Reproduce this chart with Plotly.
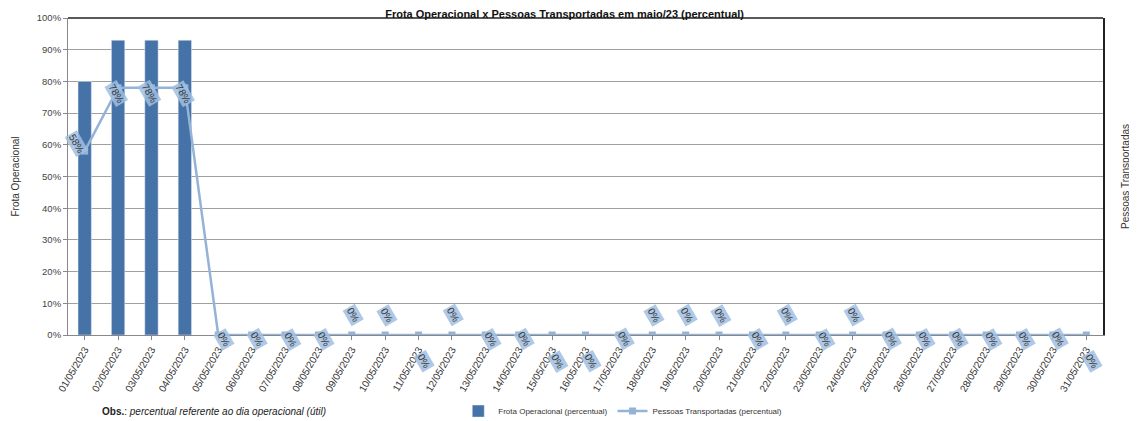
import plotly.graph_objects as go

dates = [f"{d:02d}/05/2023" for d in range(1, 32)]
frota = [0.80, 0.93, 0.93, 0.93] + [0.0] * 27
pessoas = [0.58, 0.78, 0.78, 0.78] + [0.0] * 27
labels_pessoas = ["58%", "78%", "78%", "78%"] + ["0%"] * 27

# label placement style (pixel offsets): 'a' above, 'm' mid-right, 'b' below
label_pos = ["m", "m", "m", "m",
             "m", "m", "m", "m", "a", "a", "b", "a", "m", "m", "b", "b",
             "m", "a", "a", "a", "m", "a", "m", "a", "m", "m", "m", "m",
             "m", "m", "b"]
offsets = {"a": (2, 20), "m": (6, -4), "b": (6, -26)}

fig = go.Figure()
fig.add_trace(go.Bar(
    x=dates, y=frota, name="Frota Operacional (percentual)",
    marker_color="#4572A7", width=0.4, yaxis="y"))
fig.add_trace(go.Scatter(
    x=dates, y=pessoas, name="Pessoas Transportadas (percentual)",
    mode="lines+markers", yaxis="y2",
    line=dict(color="#95B3D7", width=2.5),
    marker=dict(symbol="square", size=7, color="#95B3D7")))

for i, (d, v, t) in enumerate(zip(dates, pessoas, labels_pessoas)):
    dx, dy = offsets[label_pos[i]]
    if i == 0:
        dx, dy = -8, 8
    elif i < 4:
        dx, dy = -2, -6
    fig.add_annotation(
        x=d, y=v, yref="y2", text=t, showarrow=False, textangle=60,
        xshift=dx, yshift=dy, bgcolor="rgba(160,190,225,0.85)",
        font=dict(family="Liberation Sans, Arial", size=10, color="#333333"),
        borderpad=1)

fig.add_annotation(
    xref="paper", yref="paper", x=0.031, y=-0.24, xanchor="left", yanchor="middle",
    text="<b>Obs.</b>: <i>percentual referente ao dia operacional (útil)</i>",
    showarrow=False, font=dict(family="Liberation Sans, Arial", size=10, color="#222222"))

fig.update_layout(
    width=1129, height=413,
    margin=dict(l=60, r=34, t=10, b=86, autoexpand=False),
    paper_bgcolor="white", plot_bgcolor="white",
    title=dict(text="<b>Frota Operacional x Pessoas Transportadas em maio/23 (percentual)</b>",
               x=0.493, xanchor="center", y=0.985, yanchor="middle",
               font=dict(family="Liberation Sans, Arial", size=11, color="#111111")),
    font=dict(family="Liberation Sans, Arial", size=9, color="#333333"),
    xaxis=dict(range=[-0.5, 30.5], autorange=False,
               tickangle=-60, showgrid=False, showline=True, linecolor="#888888",
               ticks="outside", ticklen=4, tickcolor="#888888", automargin=False,
               tickfont=dict(size=10, color="#333333")),
    yaxis=dict(range=[0, 1], tickformat=".0%", dtick=0.1, showgrid=True,
               gridcolor="#A0A0A0", gridwidth=1, showline=True, linecolor="#888888",
               ticks="outside", ticklen=4, tickcolor="#888888", automargin=False,
               title=dict(text="Frota Operacional", font=dict(size=10, color="#333333"), standoff=15),
               tickfont=dict(size=9.5, color="#444444"), zeroline=False),
    yaxis2=dict(range=[0, 1], overlaying="y", side="right", showgrid=False,
                showticklabels=False, showline=True, linecolor="#222222", linewidth=1.5,
                automargin=False,
                title=dict(text="Pessoas Transportadas", font=dict(size=10, color="#333333"), standoff=18),
                zeroline=False, ticks=""),
    legend=dict(orientation="h", x=0.536, xanchor="center", y=-0.24, yanchor="middle",
                font=dict(size=8, color="#333333"), bgcolor="rgba(0,0,0,0)"),
    bargap=0.6,
    shapes=[dict(type="line", xref="paper", yref="paper", x0=0, x1=1, y0=1, y1=1,
                 line=dict(color="#222222", width=1.5))],
)

fig.write_html("out.html")
